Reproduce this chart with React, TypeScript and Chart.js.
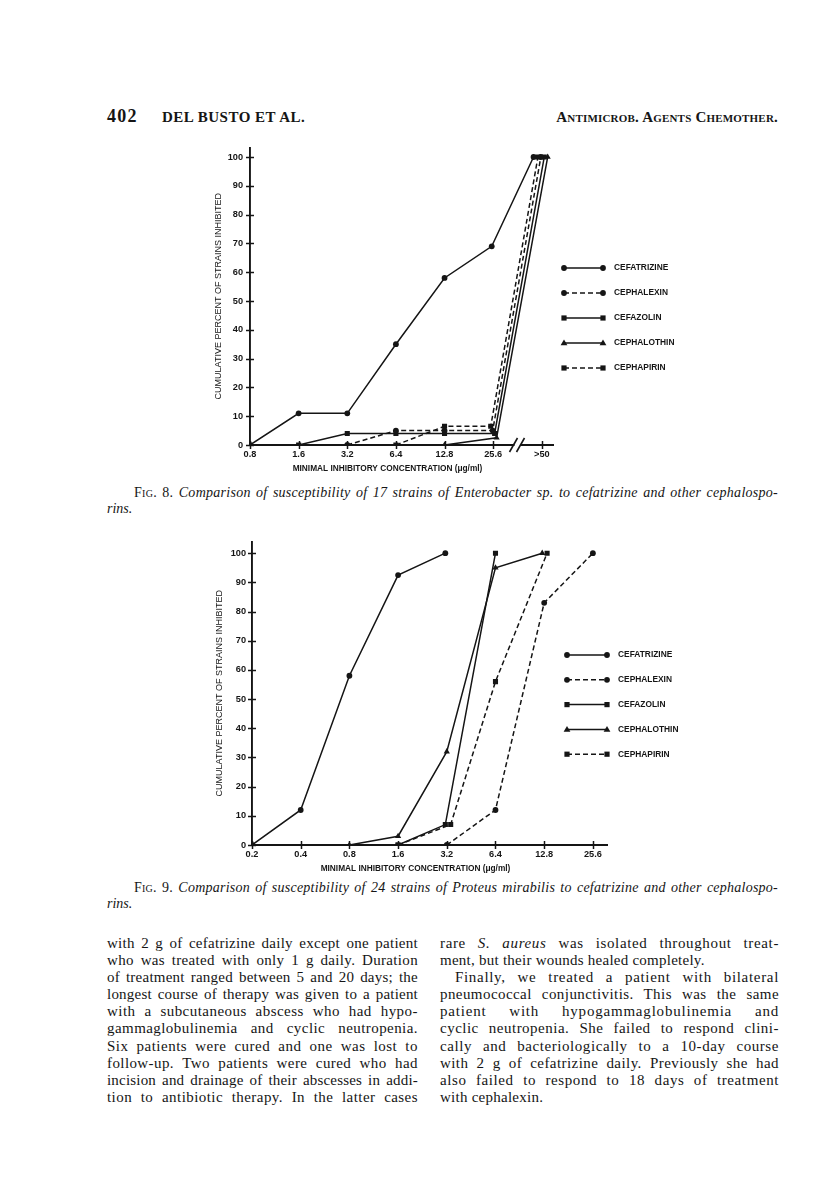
import React, { useEffect, useRef } from "react";
import { Chart, registerables } from "chart.js";

Chart.register(...registerables);

// ---------- data ----------
const DRUGS = ["CEFATRIZINE", "CEPHALEXIN", "CEFAZOLIN", "CEPHALOTHIN", "CEPHAPIRIN"];
const Y_TICKS = [0, 10, 20, 30, 40, 50, 60, 70, 80, 90, 100];

// Fig. 8 (Enterobacter sp., 17 strains). x = position on the MIC axis (tick index);
// small fractional offsets reproduce the side-by-side drawing of overlapping lines.
const FIG8_MIC_LABELS = ["0.8", "1.6", "3.2", "6.4", "12.8", "25.6", ">50"];
const fig8CefatrizineX = [0, 1, 2, 3, 4, 4.97, 5.83];
const fig8CefatrizineY = [0, 11, 11, 35, 58, 69, 100];
const fig8CephalexinX = [2, 3, 4, 4.99, 5.98];
const fig8CephalexinY = [0, 5, 5, 5, 100];
const fig8CefazolinX = [1, 2, 3, 4, 5.03, 6.05];
const fig8CefazolinY = [0, 4, 4, 4, 4, 100];
const fig8CephalothinX = [4, 5.07, 6.12];
const fig8CephalothinY = [0, 2.5, 100];
const fig8CephapirinX = [3, 4, 4.95, 5.92];
const fig8CephapirinY = [0, 6.5, 6.5, 100];

// Fig. 9 (Proteus mirabilis, 24 strains)
const FIG9_MIC_LABELS = ["0.2", "0.4", "0.8", "1.6", "3.2", "6.4", "12.8", "25.6"];
const fig9CefatrizineX = [0, 1, 2, 3, 3.97];
const fig9CefatrizineY = [0, 12, 58, 92.5, 100];
const fig9CephalexinX = [4, 5, 6, 7];
const fig9CephalexinY = [0, 12, 83, 100];
const fig9CefazolinX = [3, 3.97, 5];
const fig9CefazolinY = [0, 7, 100];
const fig9CephalothinX = [2, 3, 4, 5, 5.96];
const fig9CephalothinY = [0, 3, 32, 95, 100];
const fig9CephapirinX = [3, 4.08, 5, 6.06];
const fig9CephapirinY = [0, 7, 56, 100];

const X_TITLE = "MINIMAL INHIBITORY CONCENTRATION (\u03bcg/ml)";
const Y_TITLE = "CUMULATIVE PERCENT OF STRAINS INHIBITED";

const HEADER_PAGE = "402";
const HEADER_AUTHORS = "DEL BUSTO ET AL.";
const HEADER_JOURNAL = "Antimicrob. Agents Chemother.";

const FIG8_CAPTION_1 = "Comparison of susceptibility of 17 strains of Enterobacter sp. to cefatrizine and other cephalospo-";
const FIG8_CAPTION_2 = "rins.";
const FIG9_CAPTION_1 = "Comparison of susceptibility of 24 strains of Proteus mirabilis to cefatrizine and other cephalospo-";
const FIG9_CAPTION_2 = "rins.";

const LEFT_COLUMN = [
  "with 2 g of cefatrizine daily except one patient",
  "who was treated with only 1 g daily. Duration",
  "of treatment ranged between 5 and 20 days; the",
  "longest course of therapy was given to a patient",
  "with a subcutaneous abscess who had hypo-",
  "gammaglobulinemia and cyclic neutropenia.",
  "Six patients were cured and one was lost to",
  "follow-up. Two patients were cured who had",
  "incision and drainage of their abscesses in addi-",
  "tion to antibiotic therapy. In the latter cases",
];
const RIGHT_COLUMN = [
  "rare |S. aureus| was isolated throughout treat-",
  "ment, but their wounds healed completely.",
  "Finally, we treated a patient with bilateral",
  "pneumococcal conjunctivitis. This was the same",
  "patient with hypogammaglobulinemia and",
  "cyclic neutropenia. She failed to respond clini-",
  "cally and bacteriologically to a 10-day course",
  "with 2 g of cefatrizine daily. Previously she had",
  "also failed to respond to 18 days of treatment",
  "with cephalexin.",
];
const RIGHT_LAST_LINES = [1, 9];
const RIGHT_INDENT_LINES = [2];

// ---------- styling ----------
const INK = "#151515";
const SANS = '"Liberation Sans", Arial, sans-serif';
const SERIF = '"Liberation Serif", "Times New Roman", serif';

const LINE_STYLES = [
  { dash: [] as number[], point: "circle" },
  { dash: [5, 3], point: "circle" },
  { dash: [] as number[], point: "rect" },
  { dash: [] as number[], point: "triangle" },
  { dash: [5, 3], point: "rect" },
];

type Geo = {
  left: number; top: number; width: number; height: number;
  padTop: number; padRight: number; yAxisWidth: number; xAxisHeight: number;
  xMax: number; yMax: number; yTitlePad: number; yTickPad: number;
  labels: string[]; xs: number[][]; ys: number[][];
  legendX1: number; legendX2: number; legendTextX: number; legendY0: number; legendDy: number;
  breakAt: number | null; xTitleShift: number; xTitleDrop: number;
};

const FIG8: Geo = {
  left: 200, top: 135, width: 500, height: 345,
  padTop: 7, padRight: 147, yAxisWidth: 50, xAxisHeight: 35,
  xMax: 6.23, yMax: 103.3, yTitlePad: 13, yTickPad: 7,
  labels: FIG8_MIC_LABELS,
  xs: [fig8CefatrizineX, fig8CephalexinX, fig8CefazolinX, fig8CephalothinX, fig8CephapirinX],
  ys: [fig8CefatrizineY, fig8CephalexinY, fig8CefazolinY, fig8CephalothinY, fig8CephapirinY],
  legendX1: 364, legendX2: 403, legendTextX: 414, legendY0: 133, legendDy: 25,
  breakAt: 5.5, xTitleShift: -14, xTitleDrop: 24,
};

const FIG9: Geo = {
  left: 200, top: 530, width: 500, height: 350,
  padTop: 10, padRight: 93, yAxisWidth: 52, xAxisHeight: 35,
  xMax: 7.29, yMax: 104, yTitlePad: 14, yTickPad: 6,
  labels: FIG9_MIC_LABELS,
  xs: [fig9CefatrizineX, fig9CephalexinX, fig9CefazolinX, fig9CephalothinX, fig9CephapirinX],
  ys: [fig9CefatrizineY, fig9CephalexinY, fig9CefazolinY, fig9CephalothinY, fig9CephapirinY],
  legendX1: 367, legendX2: 407, legendTextX: 418, legendY0: 125, legendDy: 24.8,
  breakAt: null, xTitleShift: -14, xTitleDrop: 24,
};

function drawMarker(ctx: CanvasRenderingContext2D, style: string, x: number, y: number) {
  ctx.beginPath();
  if (style === "circle") {
    ctx.arc(x, y, 2.9, 0, Math.PI * 2);
  } else if (style === "rect") {
    ctx.rect(x - 2.6, y - 2.6, 5.2, 5.2);
  } else {
    ctx.moveTo(x, y - 3.5);
    ctx.lineTo(x + 3.4, y + 2.3);
    ctx.lineTo(x - 3.4, y + 2.3);
    ctx.closePath();
  }
  ctx.fill();
}

function decorPlugin(g: Geo) {
  return {
    id: "decor",
    afterDraw(chart: any) {
      const { ctx, chartArea } = chart;
      const xs = chart.scales.x;
      const ys = chart.scales.y;
      ctx.save();
      ctx.strokeStyle = INK;
      ctx.fillStyle = INK;
      ctx.lineWidth = 1.5;
      ctx.setLineDash([]);
      // tick marks crossing the axes
      for (const v of Y_TICKS) {
        const py = Math.round(ys.getPixelForValue(v)) + 0.5;
        ctx.beginPath();
        ctx.moveTo(chartArea.left - 4, py);
        ctx.lineTo(chartArea.left + 4, py);
        ctx.stroke();
      }
      g.labels.forEach((_, i) => {
        const px = Math.round(xs.getPixelForValue(i)) + 0.5;
        ctx.beginPath();
        ctx.moveTo(px, chartArea.bottom - 4);
        ctx.lineTo(px, chartArea.bottom + 4);
        ctx.stroke();
      });
      // axis break
      if (g.breakAt !== null) {
        const px = xs.getPixelForValue(g.breakAt);
        const by = chartArea.bottom;
        ctx.fillStyle = "#fff";
        ctx.fillRect(px - 3, by - 2, 6, 4);
        ctx.fillStyle = INK;
        ctx.lineWidth = 1.6;
        for (const dx of [-4, 3]) {
          ctx.beginPath();
          ctx.moveTo(px + dx - 4, by + 7);
          ctx.lineTo(px + dx + 4, by - 7);
          ctx.stroke();
        }
      }
      // x axis title
      ctx.font = `bold 8.3px ${SANS}`;
      ctx.textAlign = "center";
      ctx.textBaseline = "middle";
      ctx.fillText(X_TITLE, (chartArea.left + chartArea.right) / 2 + g.xTitleShift, chartArea.bottom + g.xTitleDrop);
      // legend
      ctx.font = `bold 8.4px ${SANS}`;
      ctx.textBaseline = "middle";
      ctx.textAlign = "left";
      DRUGS.forEach((name, i) => {
        const st = LINE_STYLES[i];
        const y = g.legendY0 + i * g.legendDy;
        ctx.lineWidth = 1.5;
        ctx.setLineDash(st.dash);
        ctx.beginPath();
        ctx.moveTo(g.legendX1, y);
        ctx.lineTo(g.legendX2, y);
        ctx.stroke();
        ctx.setLineDash([]);
        drawMarker(ctx, st.point, g.legendX1, y);
        drawMarker(ctx, st.point, g.legendX2, y);
        ctx.fillText(name, g.legendTextX, y);
      });
      ctx.restore();
    },
  };
}

function makeConfig(g: Geo): any {
  const datasets = DRUGS.map((name, i) => {
    const st = LINE_STYLES[i];
    return {
      label: name,
      data: g.xs[i].map((x, j) => ({ x, y: g.ys[i][j] })),
      borderColor: INK,
      backgroundColor: INK,
      borderWidth: 1.5,
      borderDash: st.dash,
      pointStyle: st.point,
      pointRadius: st.point === "rect" ? 3.6 : st.point === "triangle" ? 3.6 : 2.9,
      pointBorderWidth: 0,
      pointHoverRadius: 0,
      tension: 0,
      fill: false,
    };
  });
  const axisGrid = { display: true, drawOnChartArea: false, drawTicks: false, color: "rgba(0,0,0,0)" };
  const axisBorder = { display: true, color: INK, width: 1.9 };
  const tickFont = { family: SANS, size: 9.2, weight: "bold" };
  return {
    type: "line",
    data: { datasets },
    options: {
      responsive: false,
      animation: false,
      devicePixelRatio: 1,
      events: [],
      layout: { padding: { top: g.padTop, right: g.padRight, bottom: 0, left: 0 } },
      plugins: { legend: { display: false }, tooltip: { enabled: false } },
      scales: {
        x: {
          type: "linear",
          min: 0,
          max: g.xMax,
          afterBuildTicks: (s: any) => {
            s.ticks = g.labels.map((_, i) => ({ value: i }));
          },
          afterFit: (s: any) => {
            s.height = g.xAxisHeight;
          },
          ticks: {
            autoSkip: false,
            maxRotation: 0,
            padding: 4,
            color: INK,
            font: tickFont,
            callback: (v: any) => g.labels[Math.round(Number(v))] ?? "",
          },
          grid: axisGrid,
          border: axisBorder,
          title: { display: false },
        },
        y: {
          type: "linear",
          min: 0,
          max: g.yMax,
          afterBuildTicks: (s: any) => {
            s.ticks = Y_TICKS.map((v) => ({ value: v }));
          },
          afterFit: (s: any) => {
            s.width = g.yAxisWidth;
          },
          ticks: {
            padding: g.yTickPad,
            color: INK,
            font: tickFont,
            callback: (v: any) => String(v),
          },
          grid: axisGrid,
          border: axisBorder,
          title: {
            display: true,
            text: Y_TITLE,
            color: INK,
            font: { family: SANS, size: 9 },
            padding: { top: g.yTitlePad, bottom: 0 },
          },
        },
      },
    },
    plugins: [decorPlugin(g)],
  };
}

function ChartCanvas({ g }: { g: Geo }) {
  const ref = useRef<HTMLCanvasElement>(null);
  useEffect(() => {
    const chart = new Chart(ref.current as HTMLCanvasElement, makeConfig(g));
    return () => chart.destroy();
  }, [g]);
  return (
    <canvas
      ref={ref}
      width={g.width}
      height={g.height}
      style={{ position: "absolute", left: g.left, top: g.top, width: g.width, height: g.height }}
    />
  );
}

// letter spacing that absorbs part of the slack of a justified line
let measureCtx: CanvasRenderingContext2D | null = null;
function spacingFor(text: string, font: string, width: number, share: number): number {
  if (!measureCtx) measureCtx = document.createElement("canvas").getContext("2d");
  if (!measureCtx) return 0;
  measureCtx.font = font;
  const w = measureCtx.measureText(text.replace(/\|/g, "")).width;
  const ls = ((width - w) * share) / Math.max(1, text.length);
  return Math.max(-0.4, Math.min(0.8, ls));
}

function Caption({ top, num, line1, line2 }: { top: number; num: string; line1: string; line2: string }) {
  const size = 14;
  const lineStyle: React.CSSProperties = {
    height: 16,
    lineHeight: "16px",
    whiteSpace: "nowrap",
  };
  const full = `FIG. ${num}. ${line1}`;
  const ls = spacingFor(full, `italic ${size}px ${SERIF}`, 644, 0.6);
  return (
    <div style={{ position: "absolute", left: 107, top, width: 671, fontSize: size, fontFamily: SERIF }}>
      <div style={{ ...lineStyle, paddingLeft: 27, textAlign: "justify", textAlignLast: "justify", letterSpacing: ls }}>
        <span style={{ fontVariant: "small-caps" }}>Fig.</span> {num}.{" "}
        <i>{line1}</i>
      </div>
      <div style={lineStyle}>
        <i>{line2}</i>
      </div>
    </div>
  );
}

function renderLine(text: string) {
  const parts = text.split("|");
  return parts.map((p, i) => (i % 2 === 1 ? <i key={i}>{p}</i> : <span key={i}>{p}</span>));
}

function Column({ left, width, lines, lastLines, indentLines }: {
  left: number; width: number; lines: string[]; lastLines: number[]; indentLines: number[];
}) {
  const size = 15;
  return (
    <div style={{ position: "absolute", left, top: 935, width, fontFamily: SERIF, fontSize: size }}>
      {lines.map((t, i) => {
        const last = lastLines.includes(i);
        const indent = indentLines.includes(i) ? 15 : 0;
        const ls = last ? 0.25 : spacingFor(t, `${size}px ${SERIF}`, width - indent, 0.4);
        return (
          <div
            key={i}
            style={{
              height: 17.1,
              lineHeight: "17.1px",
              whiteSpace: "nowrap",
              paddingLeft: indent,
              letterSpacing: ls,
              textAlign: last ? "left" : "justify",
              textAlignLast: last ? "left" : "justify",
            }}
          >
            {renderLine(t)}
          </div>
        );
      })}
    </div>
  );
}

export default function App() {
  return (
    <div
      style={{
        position: "absolute",
        left: 0,
        top: 0,
        width: 816,
        height: 1202,
        background: "#fff",
        overflow: "hidden",
        color: INK,
        fontFamily: SERIF,
      }}
    >
      <div style={{ position: "absolute", left: 107, top: 107, fontSize: 18, fontWeight: "bold", lineHeight: "19px", letterSpacing: 1.2 }}>
        {HEADER_PAGE}
      </div>
      <div style={{ position: "absolute", left: 162, top: 109, fontSize: 15, fontWeight: "bold", lineHeight: "17px", letterSpacing: 0.5 }}>
        {HEADER_AUTHORS}
      </div>
      <div
        style={{
          position: "absolute",
          right: 38,
          top: 109,
          fontSize: 15,
          fontWeight: "bold",
          fontVariant: "small-caps",
          lineHeight: "17px",
          letterSpacing: 0.2,
        }}
      >
        {HEADER_JOURNAL}
      </div>

      <ChartCanvas g={FIG8} />
      <Caption top={485} num="8" line1={FIG8_CAPTION_1} line2={FIG8_CAPTION_2} />

      <ChartCanvas g={FIG9} />
      <Caption top={880} num="9" line1={FIG9_CAPTION_1} line2={FIG9_CAPTION_2} />

      <Column left={107} width={311} lines={LEFT_COLUMN} lastLines={[]} indentLines={[]} />
      <Column left={440} width={339} lines={RIGHT_COLUMN} lastLines={RIGHT_LAST_LINES} indentLines={RIGHT_INDENT_LINES} />
    </div>
  );
}
